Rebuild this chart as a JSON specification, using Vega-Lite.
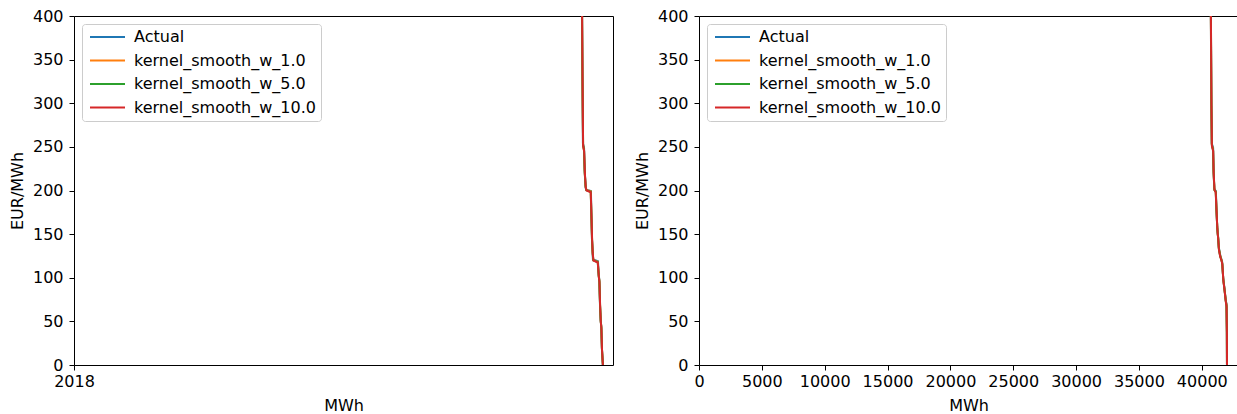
{
  "$schema": "https://vega.github.io/schema/vega-lite/v6.json",
  "padding": {"left": 8, "top": 7, "right": 0, "bottom": 0},
  "background": "white",
  "bounds": "flush",
  "spacing": 86,
  "config": {
    "font": "DejaVu Sans",
    "view": {"stroke": "black", "strokeWidth": 1},
    "axis": {"domain": false, "grid": false, "labelFlush": false, "tickColor": "black", "tickSize": 5, "tickWidth": 1, "labelColor": "black", "labelFontSize": 16, "titleFontSize": 16, "titleFontWeight": "normal", "titleColor": "black", "labelFont": "DejaVu Sans", "titleFont": "DejaVu Sans"},
    "axisX": {"labelPadding": 3, "titlePadding": 8},
    "axisY": {"labelPadding": 6, "titlePadding": 7},
    "legend": {"orient": "top-left", "offset": 8, "title": null, "strokeColor": "#cccccc", "fillColor": "white", "padding": 5, "cornerRadius": 3, "symbolType": "M-1,0H6", "symbolSize": 100, "symbolStrokeWidth": 2, "labelFontSize": 16, "labelLimit": 0, "labelOffset": 31, "rowPadding": 7.5, "labelColor": "black", "labelFont": "DejaVu Sans"}
  },
  "datasets": {
    "left": [
      {"series": "Actual", "x": 40530, "y": 400}, {"series": "Actual", "x": 40560, "y": 330}, {"series": "Actual", "x": 40600, "y": 254}, {"series": "Actual", "x": 40690, "y": 249}, {"series": "Actual", "x": 40730, "y": 225}, {"series": "Actual", "x": 40810, "y": 205}, {"series": "Actual", "x": 40850, "y": 201}, {"series": "Actual", "x": 41240, "y": 199.5}, {"series": "Actual", "x": 41270, "y": 175}, {"series": "Actual", "x": 41320, "y": 145}, {"series": "Actual", "x": 41360, "y": 132}, {"series": "Actual", "x": 41400, "y": 121}, {"series": "Actual", "x": 41800, "y": 119}, {"series": "Actual", "x": 41860, "y": 103}, {"series": "Actual", "x": 41900, "y": 99}, {"series": "Actual", "x": 41960, "y": 70}, {"series": "Actual", "x": 42010, "y": 52}, {"series": "Actual", "x": 42060, "y": 45}, {"series": "Actual", "x": 42110, "y": 20}, {"series": "Actual", "x": 42190, "y": 0},
      {"series": "kernel_smooth_w_1.0", "x": 40530, "y": 400}, {"series": "kernel_smooth_w_1.0", "x": 40560, "y": 330}, {"series": "kernel_smooth_w_1.0", "x": 40610, "y": 253}, {"series": "kernel_smooth_w_1.0", "x": 40680, "y": 247}, {"series": "kernel_smooth_w_1.0", "x": 40740, "y": 222}, {"series": "kernel_smooth_w_1.0", "x": 40800, "y": 206}, {"series": "kernel_smooth_w_1.0", "x": 40870, "y": 200.5}, {"series": "kernel_smooth_w_1.0", "x": 41230, "y": 199}, {"series": "kernel_smooth_w_1.0", "x": 41275, "y": 172}, {"series": "kernel_smooth_w_1.0", "x": 41320, "y": 146}, {"series": "kernel_smooth_w_1.0", "x": 41370, "y": 130}, {"series": "kernel_smooth_w_1.0", "x": 41420, "y": 120.5}, {"series": "kernel_smooth_w_1.0", "x": 41790, "y": 118.5}, {"series": "kernel_smooth_w_1.0", "x": 41865, "y": 102}, {"series": "kernel_smooth_w_1.0", "x": 41910, "y": 97}, {"series": "kernel_smooth_w_1.0", "x": 41965, "y": 69}, {"series": "kernel_smooth_w_1.0", "x": 42020, "y": 51}, {"series": "kernel_smooth_w_1.0", "x": 42065, "y": 44}, {"series": "kernel_smooth_w_1.0", "x": 42115, "y": 19}, {"series": "kernel_smooth_w_1.0", "x": 42190, "y": 0.5},
      {"series": "kernel_smooth_w_5.0", "x": 40535, "y": 400}, {"series": "kernel_smooth_w_5.0", "x": 40565, "y": 330}, {"series": "kernel_smooth_w_5.0", "x": 40615, "y": 252}, {"series": "kernel_smooth_w_5.0", "x": 40690, "y": 246}, {"series": "kernel_smooth_w_5.0", "x": 40750, "y": 220}, {"series": "kernel_smooth_w_5.0", "x": 40820, "y": 204}, {"series": "kernel_smooth_w_5.0", "x": 40880, "y": 200.2}, {"series": "kernel_smooth_w_5.0", "x": 41220, "y": 198.5}, {"series": "kernel_smooth_w_5.0", "x": 41280, "y": 170}, {"series": "kernel_smooth_w_5.0", "x": 41330, "y": 144}, {"series": "kernel_smooth_w_5.0", "x": 41380, "y": 129}, {"series": "kernel_smooth_w_5.0", "x": 41430, "y": 120}, {"series": "kernel_smooth_w_5.0", "x": 41780, "y": 118}, {"series": "kernel_smooth_w_5.0", "x": 41870, "y": 101}, {"series": "kernel_smooth_w_5.0", "x": 41915, "y": 96}, {"series": "kernel_smooth_w_5.0", "x": 41970, "y": 68}, {"series": "kernel_smooth_w_5.0", "x": 42025, "y": 50}, {"series": "kernel_smooth_w_5.0", "x": 42070, "y": 43}, {"series": "kernel_smooth_w_5.0", "x": 42120, "y": 18}, {"series": "kernel_smooth_w_5.0", "x": 42195, "y": 0.2},
      {"series": "kernel_smooth_w_10.0", "x": 40535, "y": 400}, {"series": "kernel_smooth_w_10.0", "x": 40570, "y": 330}, {"series": "kernel_smooth_w_10.0", "x": 40615, "y": 251}, {"series": "kernel_smooth_w_10.0", "x": 40700, "y": 245}, {"series": "kernel_smooth_w_10.0", "x": 40760, "y": 219}, {"series": "kernel_smooth_w_10.0", "x": 40830, "y": 203}, {"series": "kernel_smooth_w_10.0", "x": 40890, "y": 200.1}, {"series": "kernel_smooth_w_10.0", "x": 41225, "y": 198}, {"series": "kernel_smooth_w_10.0", "x": 41285, "y": 169}, {"series": "kernel_smooth_w_10.0", "x": 41335, "y": 143}, {"series": "kernel_smooth_w_10.0", "x": 41385, "y": 128}, {"series": "kernel_smooth_w_10.0", "x": 41440, "y": 119.8}, {"series": "kernel_smooth_w_10.0", "x": 41785, "y": 117.5}, {"series": "kernel_smooth_w_10.0", "x": 41875, "y": 100}, {"series": "kernel_smooth_w_10.0", "x": 41920, "y": 95}, {"series": "kernel_smooth_w_10.0", "x": 41975, "y": 67}, {"series": "kernel_smooth_w_10.0", "x": 42030, "y": 49}, {"series": "kernel_smooth_w_10.0", "x": 42075, "y": 42}, {"series": "kernel_smooth_w_10.0", "x": 42125, "y": 17}, {"series": "kernel_smooth_w_10.0", "x": 42195, "y": 0}
    ],
    "right": [
      {"series": "Actual", "x": 40720, "y": 400}, {"series": "Actual", "x": 40760, "y": 300}, {"series": "Actual", "x": 40790, "y": 254}, {"series": "Actual", "x": 40900, "y": 249}, {"series": "Actual", "x": 40930, "y": 225}, {"series": "Actual", "x": 40990, "y": 203}, {"series": "Actual", "x": 41000, "y": 201}, {"series": "Actual", "x": 41120, "y": 199.5}, {"series": "Actual", "x": 41160, "y": 180}, {"series": "Actual", "x": 41220, "y": 160}, {"series": "Actual", "x": 41260, "y": 152}, {"series": "Actual", "x": 41290, "y": 148}, {"series": "Actual", "x": 41350, "y": 135}, {"series": "Actual", "x": 41450, "y": 127}, {"series": "Actual", "x": 41560, "y": 121}, {"series": "Actual", "x": 41620, "y": 118}, {"series": "Actual", "x": 41700, "y": 100}, {"series": "Actual", "x": 41800, "y": 88}, {"series": "Actual", "x": 41900, "y": 75}, {"series": "Actual", "x": 41960, "y": 70}, {"series": "Actual", "x": 41990, "y": 40}, {"series": "Actual", "x": 42000, "y": 0},
      {"series": "kernel_smooth_w_1.0", "x": 40720, "y": 400}, {"series": "kernel_smooth_w_1.0", "x": 40762, "y": 299}, {"series": "kernel_smooth_w_1.0", "x": 40795, "y": 253}, {"series": "kernel_smooth_w_1.0", "x": 40895, "y": 247}, {"series": "kernel_smooth_w_1.0", "x": 40935, "y": 223}, {"series": "kernel_smooth_w_1.0", "x": 40995, "y": 202}, {"series": "kernel_smooth_w_1.0", "x": 41010, "y": 200.5}, {"series": "kernel_smooth_w_1.0", "x": 41115, "y": 199}, {"series": "kernel_smooth_w_1.0", "x": 41165, "y": 178}, {"series": "kernel_smooth_w_1.0", "x": 41225, "y": 159}, {"series": "kernel_smooth_w_1.0", "x": 41265, "y": 151}, {"series": "kernel_smooth_w_1.0", "x": 41295, "y": 147}, {"series": "kernel_smooth_w_1.0", "x": 41355, "y": 134}, {"series": "kernel_smooth_w_1.0", "x": 41455, "y": 126}, {"series": "kernel_smooth_w_1.0", "x": 41565, "y": 120.5}, {"series": "kernel_smooth_w_1.0", "x": 41625, "y": 117}, {"series": "kernel_smooth_w_1.0", "x": 41705, "y": 99}, {"series": "kernel_smooth_w_1.0", "x": 41805, "y": 87}, {"series": "kernel_smooth_w_1.0", "x": 41905, "y": 74}, {"series": "kernel_smooth_w_1.0", "x": 41965, "y": 69}, {"series": "kernel_smooth_w_1.0", "x": 41992, "y": 39}, {"series": "kernel_smooth_w_1.0", "x": 42002, "y": 0.5},
      {"series": "kernel_smooth_w_5.0", "x": 40725, "y": 400}, {"series": "kernel_smooth_w_5.0", "x": 40765, "y": 298}, {"series": "kernel_smooth_w_5.0", "x": 40800, "y": 252}, {"series": "kernel_smooth_w_5.0", "x": 40900, "y": 246}, {"series": "kernel_smooth_w_5.0", "x": 40940, "y": 221}, {"series": "kernel_smooth_w_5.0", "x": 41000, "y": 202.5}, {"series": "kernel_smooth_w_5.0", "x": 41020, "y": 200.2}, {"series": "kernel_smooth_w_5.0", "x": 41110, "y": 198.5}, {"series": "kernel_smooth_w_5.0", "x": 41170, "y": 177}, {"series": "kernel_smooth_w_5.0", "x": 41230, "y": 158}, {"series": "kernel_smooth_w_5.0", "x": 41270, "y": 150}, {"series": "kernel_smooth_w_5.0", "x": 41300, "y": 146}, {"series": "kernel_smooth_w_5.0", "x": 41360, "y": 133}, {"series": "kernel_smooth_w_5.0", "x": 41460, "y": 125}, {"series": "kernel_smooth_w_5.0", "x": 41570, "y": 120}, {"series": "kernel_smooth_w_5.0", "x": 41630, "y": 116}, {"series": "kernel_smooth_w_5.0", "x": 41710, "y": 98}, {"series": "kernel_smooth_w_5.0", "x": 41810, "y": 86}, {"series": "kernel_smooth_w_5.0", "x": 41910, "y": 73}, {"series": "kernel_smooth_w_5.0", "x": 41968, "y": 68}, {"series": "kernel_smooth_w_5.0", "x": 41995, "y": 38}, {"series": "kernel_smooth_w_5.0", "x": 42004, "y": 0.2},
      {"series": "kernel_smooth_w_10.0", "x": 40725, "y": 400}, {"series": "kernel_smooth_w_10.0", "x": 40768, "y": 297}, {"series": "kernel_smooth_w_10.0", "x": 40805, "y": 251}, {"series": "kernel_smooth_w_10.0", "x": 40905, "y": 245}, {"series": "kernel_smooth_w_10.0", "x": 40945, "y": 220}, {"series": "kernel_smooth_w_10.0", "x": 41005, "y": 202}, {"series": "kernel_smooth_w_10.0", "x": 41030, "y": 200.1}, {"series": "kernel_smooth_w_10.0", "x": 41105, "y": 198}, {"series": "kernel_smooth_w_10.0", "x": 41175, "y": 176}, {"series": "kernel_smooth_w_10.0", "x": 41235, "y": 157}, {"series": "kernel_smooth_w_10.0", "x": 41275, "y": 149}, {"series": "kernel_smooth_w_10.0", "x": 41305, "y": 145}, {"series": "kernel_smooth_w_10.0", "x": 41365, "y": 132}, {"series": "kernel_smooth_w_10.0", "x": 41465, "y": 124}, {"series": "kernel_smooth_w_10.0", "x": 41575, "y": 119.5}, {"series": "kernel_smooth_w_10.0", "x": 41635, "y": 115}, {"series": "kernel_smooth_w_10.0", "x": 41715, "y": 97}, {"series": "kernel_smooth_w_10.0", "x": 41815, "y": 85}, {"series": "kernel_smooth_w_10.0", "x": 41915, "y": 72}, {"series": "kernel_smooth_w_10.0", "x": 41970, "y": 67}, {"series": "kernel_smooth_w_10.0", "x": 41998, "y": 37}, {"series": "kernel_smooth_w_10.0", "x": 42006, "y": 0}
    ]
  },
  "resolve": {"scale": {"color": "independent", "x": "independent"}, "legend": {"color": "independent"}},
  "hconcat": [
    {
      "width": 539,
      "height": 349,
      "data": {"name": "left"},
      "mark": {"type": "line", "strokeWidth": 2, "clip": true},
      "encoding": {
        "x": {"field": "x", "type": "quantitative", "scale": {"domain": [0, 43000], "nice": false, "zero": false}, "axis": {"title": "MWh", "values": [0], "labelExpr": "'2018'"}},
        "y": {"field": "y", "type": "quantitative", "scale": {"domain": [0, 400], "nice": false}, "axis": {"title": "EUR/MWh", "values": [0, 50, 100, 150, 200, 250, 300, 350, 400]}},
        "color": {"field": "series", "type": "nominal", "scale": {"domain": ["Actual", "kernel_smooth_w_1.0", "kernel_smooth_w_5.0", "kernel_smooth_w_10.0"], "range": ["#1f77b4", "#ff7f0e", "#2ca02c", "#d62728"]}},
        "order": {"field": "y", "sort": "descending"}
      }
    },
    {
      "width": 539,
      "height": 349,
      "data": {"name": "right"},
      "mark": {"type": "line", "strokeWidth": 2, "clip": true},
      "encoding": {
        "x": {"field": "x", "type": "quantitative", "scale": {"domain": [0, 42880], "nice": false, "zero": false}, "axis": {"title": "MWh", "values": [0, 5000, 10000, 15000, 20000, 25000, 30000, 35000, 40000], "format": "d"}},
        "y": {"field": "y", "type": "quantitative", "scale": {"domain": [0, 400], "nice": false}, "axis": {"title": "EUR/MWh", "values": [0, 50, 100, 150, 200, 250, 300, 350, 400]}},
        "color": {"field": "series", "type": "nominal", "scale": {"domain": ["Actual", "kernel_smooth_w_1.0", "kernel_smooth_w_5.0", "kernel_smooth_w_10.0"], "range": ["#1f77b4", "#ff7f0e", "#2ca02c", "#d62728"]}},
        "order": {"field": "y", "sort": "descending"}
      }
    }
  ]
}
